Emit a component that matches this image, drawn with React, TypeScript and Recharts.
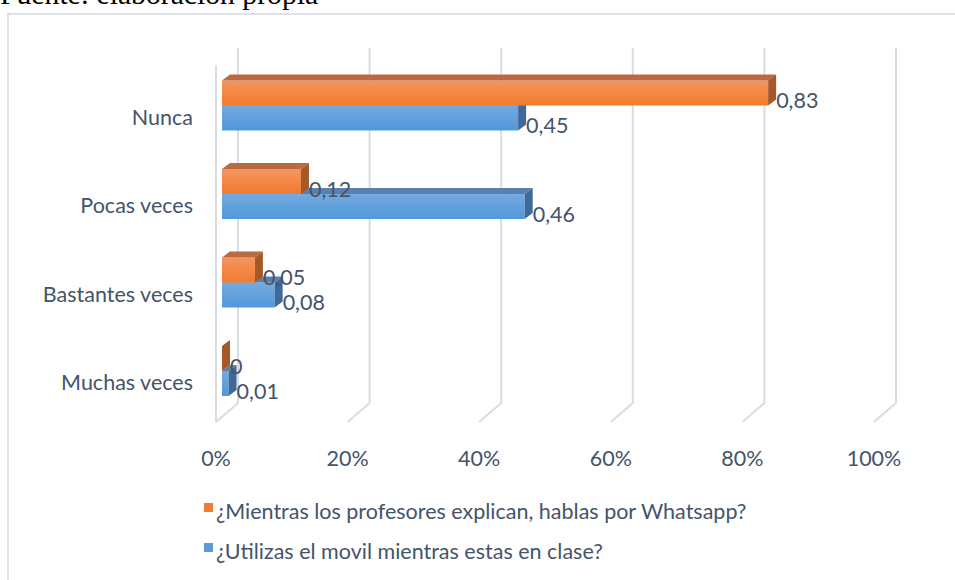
import React from 'react';
import { BarChart, Bar, XAxis, YAxis, CartesianGrid, LabelList } from 'recharts';

const CATEGORIES = ['Nunca', 'Pocas veces', 'Bastantes veces', 'Muchas veces'];
const WHATSAPP = [0.83, 0.12, 0.05, 0];
const MOVIL = [0.45, 0.46, 0.08, 0.01];
const X_TICKS = [0, 0.2, 0.4, 0.6, 0.8, 1];
const X_TICK_LABELS = ['0%', '20%', '40%', '60%', '80%', '100%'];
const SERIES_NAMES = [
  '¿Mientras los profesores explican, hablas por Whatsapp?',
  '¿Utilizas el movil mientras estas en clase?',
];
const SOURCE_TEXT = 'Fuente: elaboración propia';

const data = CATEGORIES.map((c, i) => ({ cat: c, wa: WHATSAPP[i], mv: MOVIL[i] }));

const TEXT = '#44546A';
const FONT = 'Lato, "Open Sans", sans-serif';
const FS = 21.5;
const D = 8;
const E = 6;

const ORANGE = { id: 'or', top: '#F4955D', bottom: '#F27B2D', cap: '#BA6A3F', side: '#A65829', swatch: '#ED7D31' };
const BLUE = { id: 'bl', top: '#73AAE0', bottom: '#5198DA', cap: '#5A80AE', side: '#3E6998', swatch: '#5B9BD5' };

const make3D = (c: any) => (props: any) => {
  const x = Number(props.x);
  const y = Number(props.y);
  const w = Math.max(0, Number(props.width) || 0);
  const h = Number(props.height) || 0;
  const gid = `g-${c.id}-${props.index}`;
  return (
    <g>
      <defs>
        <linearGradient id={gid} x1="0" y1="0" x2="0" y2="1">
          <stop offset="0%" stopColor={c.top} />
          <stop offset="100%" stopColor={c.bottom} />
        </linearGradient>
      </defs>
      {w > 0 && <rect x={x} y={y} width={w} height={h} fill={`url(#${gid})`} />}
      {w > 0 && (
        <polygon
          points={`${x},${y} ${x + D},${y - E} ${x + w + D},${y - E} ${x + w},${y}`}
          fill={c.cap}
        />
      )}
      <polygon
        points={`${x + w},${y} ${x + w + D},${y - E} ${x + w + D},${y + h - E} ${x + w},${y + h}`}
        fill={c.side}
      />
    </g>
  );
};

const fmt = (v: any) => String(v).replace('.', ',');

const valueLabel = (props: any) => {
  const x = Number(props.x);
  const y = Number(props.y);
  const w = Math.max(0, Number(props.width) || 0);
  const h = Number(props.height) || 0;
  return (
    <text
      x={x + w + D}
      y={y + h / 2 + 7}
      fill={TEXT}
      fontFamily={FONT}
      fontSize={FS}
      textAnchor="start"
      dominantBaseline="central"
    >
      {fmt(props.value)}
    </text>
  );
};

const CatTick = (props: any) => {
  const { x, y, payload } = props;
  return (
    <text
      x={x + 39}
      y={y + 24}
      fill={TEXT}
      fontFamily={FONT}
      fontSize={FS}
      textAnchor="end"
      dominantBaseline="central"
    >
      {payload.value}
    </text>
  );
};

const XTick = (props: any) => {
  const { x, y, payload, index } = props;
  const i = X_TICKS.indexOf(payload.value);
  return (
    <text
      x={x - 6}
      y={y + 35}
      fill={TEXT}
      fontFamily={FONT}
      fontSize={FS}
      textAnchor="middle"
      dominantBaseline="central"
    >
      {X_TICK_LABELS[i >= 0 ? i : index]}
    </text>
  );
};

const GridLine = (props: any) => {
  const x = Number(props.x1);
  const y1 = Number(props.y1);
  const y2 = Number(props.y2);
  const isFirst = props.index === 0;
  return (
    <g key={props.key}>
      <path
        d={`M${x + 16},${y1 - 13} L${x + 16},${y2 - 12} L${x - 6},${y2 + 7}`}
        fill="none"
        stroke="#D9DCE3"
        strokeWidth={2}
      />
      {isFirst && (
        <line x1={x - 6} y1={y1 + 4} x2={x - 6} y2={y2 + 7} stroke="#D9DCE3" strokeWidth={2} />
      )}
    </g>
  );
};

export default function App() {
  return (
    <div
      style={{
        position: 'absolute',
        left: 0,
        top: 0,
        width: 955,
        height: 580,
        overflow: 'hidden',
        background: '#FFFFFF',
      }}
    >
      <div
        style={{
          position: 'absolute',
          left: 0,
          top: -20,
          fontFamily: '"Liberation Serif", "Times New Roman", serif',
          fontSize: 29.7,
          lineHeight: 1,
          color: '#000',
          whiteSpace: 'nowrap',
        }}
      >
        {SOURCE_TEXT}
      </div>
      <div
        style={{
          position: 'absolute',
          left: 7,
          top: 13,
          width: 1000,
          height: 700,
          border: '2px solid #DDE1E8',
        }}
      />
      <div style={{ position: 'absolute', left: 0, top: 0 }}>
        <BarChart
          width={955}
          height={580}
          data={data}
          layout="vertical"
          margin={{ top: 61, right: 75, bottom: 125, left: 22 }}
        >
          <CartesianGrid horizontal={false} vertical={GridLine} yAxisId="o" />
          <XAxis
            type="number"
            domain={[0, 1]}
            ticks={X_TICKS}
            axisLine={false}
            tickLine={false}
            tick={XTick}
            height={40}
            interval={0}
          />
          <YAxis
            yAxisId="o"
            type="category"
            dataKey="cat"
            width={200}
            axisLine={false}
            tickLine={false}
            tick={CatTick}
            padding={{ top: -12.5, bottom: 12.5 }}
          />
          <YAxis
            yAxisId="b"
            type="category"
            dataKey="cat"
            hide
            padding={{ top: 12.5, bottom: -12.5 }}
          />
          <Bar
            yAxisId="b"
            dataKey="mv"
            barSize={25}
            shape={make3D(BLUE)}
            isAnimationActive={false}
          >
            <LabelList dataKey="mv" content={valueLabel} />
          </Bar>
          <Bar
            yAxisId="o"
            dataKey="wa"
            barSize={25}
            shape={make3D(ORANGE)}
            isAnimationActive={false}
          >
            <LabelList dataKey="wa" content={valueLabel} />
          </Bar>
        </BarChart>
      </div>
      {[ORANGE, BLUE].map((c, i) => (
        <div
          key={c.id}
          style={{
            position: 'absolute',
            left: 204,
            top: 498 + i * 40,
            display: 'flex',
            alignItems: 'center',
            fontFamily: FONT,
            fontSize: FS,
            color: TEXT,
            whiteSpace: 'nowrap',
            lineHeight: '26px',
          }}
        >
          <span
            style={{
              display: 'inline-block',
              width: 9,
              height: 9,
              background: c.swatch,
              marginRight: 3,
              marginTop: -8,
            }}
          />
          <span>{SERIES_NAMES[i]}</span>
        </div>
      ))}
    </div>
  );
}
